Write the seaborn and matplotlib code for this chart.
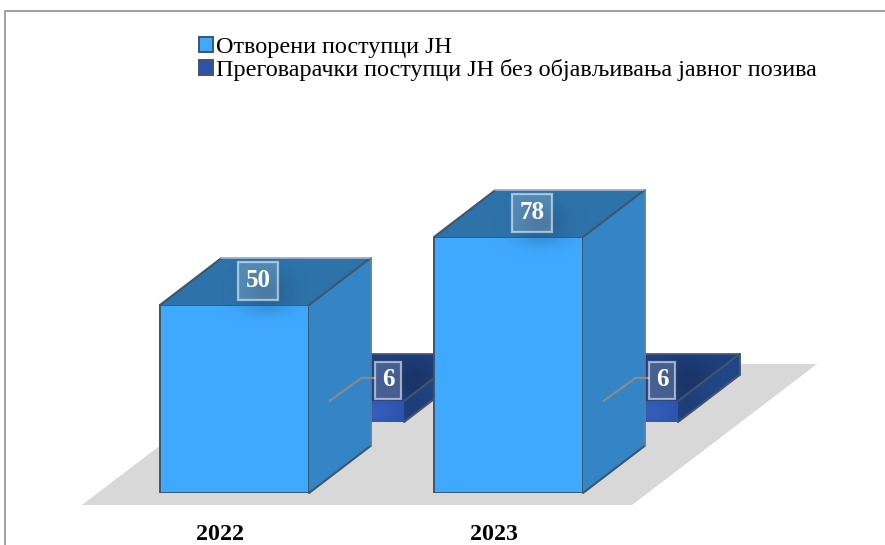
#!/usr/bin/env python3
# -*- coding: utf-8 -*-
import numpy as np
import pandas as pd
import seaborn as sns
import matplotlib.pyplot as plt
from matplotlib.patches import Polygon, Rectangle
from matplotlib.transforms import ScaledTranslation

years = ['2022', '2023']
open_proc = [50, 78]
negotiated = [6, 6]
series_names = ['Отворени поступци ЈН',
                'Преговарачки поступци ЈН без објављивања јавног позива']

# the 3D bars of the original are not proportional, so the height scale is bent
scale_vals = [0, 6, 50, 78]
scale_px = [0, 21, 188, 256]

W, H = 885, 545
DEPTH = (61.5, 47)
SERIF = 'Liberation Serif'

sns.set_theme(style='white')
plt.rcParams['font.family'] = [SERIF, 'DejaVu Serif']


def to_scale(v):
    return np.interp(v, scale_vals, scale_px)


def from_scale(p):
    return np.interp(p, scale_px, scale_vals)


def pixel_axes(fig, z):
    a = fig.add_axes([0, 0, 1, 1], zorder=z)
    a.set_xlim(0, W)
    a.set_ylim(H, 0)
    a.axis('off')
    a.patch.set_alpha(0)
    return a


def bar_axes(fig, left, base, z):
    # axes 548 px wide for two categories, 256 px tall for the scale above
    a = fig.add_axes([left / W, (H - base) / H, 548 / W, 256 / H], zorder=z)
    a.patch.set_alpha(0)
    return a


def draw_series(a, values, color, edge):
    df = pd.DataFrame({'year': years, 'value': values})
    sns.barplot(data=df, x='year', y='value', ax=a, color=color, width=0.5438,
                saturation=1, edgecolor=edge, linewidth=1.4)
    a.set_yscale('function', functions=(to_scale, from_scale))
    a.set_xlim(-0.5, 1.5)
    a.set_ylim(0, 78)
    a.set_yticks([])
    a.set_xlabel('')
    a.set_ylabel('')
    sns.despine(ax=a, left=True, bottom=True)


def corners(a, bar):
    """front corners of a bar in pixels, y going down"""
    x0, x1 = bar.get_x(), bar.get_x() + bar.get_width()
    h = bar.get_height()
    pts = a.transData.transform([(x0, 0), (x1, h)])
    return pts[0][0], H - pts[1][1], pts[1][0], H - pts[0][1]


def add_faces(a, layer, clr_top, clr_side, edge, edge_back, edge_right):
    dx, dy = DEPTH
    out = []
    for bar in a.containers[0]:
        l, t, r, b = corners(a, bar)
        side = Polygon([(r, t), (r + dx, t - dy), (r + dx, b - dy), (r, b)],
                       fc=clr_side, ec='none')
        top = Polygon([(l, t), (l + dx, t - dy), (r + dx, t - dy), (r, t)],
                      fc=clr_top, ec='none')
        layer.add_patch(side)
        layer.add_patch(top)
        out.append((l, t, r, b, top, side))
        # edges go on top of the shadows
        layer.plot([l, l + dx], [t, t - dy], color=edge, lw=1.5, zorder=4)
        layer.plot([r, r + dx], [t, t - dy], color=edge, lw=1.5, zorder=4)
        layer.plot([r, r + dx], [b, b - dy], color=edge, lw=1.5, zorder=4)
        layer.plot([l + dx, r + dx], [t - dy, t - dy], color=edge_back, lw=1.3, zorder=4)
        layer.plot([r + dx, r + dx], [t - dy, b - dy], color=edge_right, lw=1.3, zorder=4)
    return out


def blob(a, cx, cy, rx, ry, color, alpha, clip):
    xs, ys = np.meshgrid(np.arange(cx - 3 * rx, cx + 3 * rx),
                         np.arange(cy - 3 * ry, cy + 3 * ry))
    g = np.exp(-((xs - cx) / rx) ** 2 / 2 - ((ys - cy) / ry) ** 2 / 2)
    img = np.zeros(g.shape + (4,))
    img[..., :3] = plt.matplotlib.colors.to_rgb(color)
    img[..., 3] = alpha * g
    im = a.imshow(img, extent=(cx - 3 * rx, cx + 3 * rx, cy + 3 * ry, cy - 3 * ry),
                  aspect='auto', interpolation='bilinear', zorder=3)
    im.set_clip_path(clip)
    a.set_xlim(0, W)
    a.set_ylim(H, 0)


def value_box(a, x, y, txt, pad):
    a.text(x, y, txt, ha='center', va='center', color='white', fontsize=18,
           fontweight='bold', zorder=6,
           bbox=dict(boxstyle='square,pad=%.2f' % pad, fc=(1, 1, 1, 0.18),
                     ec=(1, 1, 1, 0.55), lw=1.6))


fig = plt.figure(figsize=(W / 100, H / 100), dpi=100)

# page background: frame and floor
bg = pixel_axes(fig, 0)
bg.add_patch(Rectangle((4.5, 10.5), 900, 600, fc='white', ec='#9a9a9a', lw=1.3))
bg.add_patch(Polygon([(82, 505), (632, 505), (817, 364), (267, 364)],
                     fc='#d8d8d8', ec='none'))

# back series
ax_back = bar_axes(fig, 192.5, 422, 1)
draw_series(ax_back, negotiated, '#2c52ab', '#44546a')
ax_back.set_xticks([])
layer_back = pixel_axes(fig, 1.5)
back_faces = add_faces(ax_back, layer_back, '#1f3f7e', '#224585', '#44546a',
                       '#46587a', '#3a4f7c')
for l, t, r, b, top, side in back_faces:
    blob(layer_back, r + 10, t - 21, 15, 16, '#12294f', 0.45, top)
    blob(layer_back, r + 10, t + 3, 13, 14, '#12294f', 0.25, side)
    face = Rectangle((l, t), r - l, b - t, fc='none', ec='none')
    layer_back.add_patch(face)
    blob(layer_back, r - 28, t + 10, 14, 9, '#3f6cc9', 0.5, face)

# front series
ax_front = bar_axes(fig, 97.5, 493, 2)
draw_series(ax_front, open_proc, '#3fa9ff', '#3d566e')
ax_front.set_xticks([0, 1], years, fontsize=17.3, fontweight='bold', color='black')
ax_front.tick_params(axis='x', length=0, pad=22)
for lbl in ax_front.get_xticklabels():
    lbl.set_transform(lbl.get_transform()
                      + ScaledTranslation(-15 / 100, 0, fig.dpi_scale_trans))
layer_front = pixel_axes(fig, 2.5)
front_faces = add_faces(ax_front, layer_front, '#2d72a9', '#3385c6', '#3d566e',
                        '#9fb0bf', '#4d7fa8')
for (l, t, r, b, top, side) in front_faces:
    blob(layer_front, l + 106, t - 14, 15, 14, '#1e4f7c', 0.55, top)
    face = Rectangle((l + 1, t + 1), r - l - 2, b - t - 2, fc='none', ec='none')
    layer_front.add_patch(face)
    blob(layer_front, l + 106, t, 17, 7, '#2f7fc4', 0.55, face)

# value boxes and leader lines on top
over = pixel_axes(fig, 3)
for (l, t, r, b, top, side), v in zip(front_faces, open_proc):
    value_box(over, (l + r) / 2 + 23.5, t - 24.5, str(v), 0.30)
for (l, t, r, b, top, side), v in zip(back_faces, negotiated):
    mid = (l + r) / 2
    over.plot([mid, mid + 32, mid + 45], [t, t - 23, t - 23], color='#8a8a8a', lw=1.6)
    value_box(over, mid + 58.5, t - 21, str(v), 0.28)

leg = fig.legend([ax_front.containers[0], ax_back.containers[0]], series_names,
                 loc='upper left', bbox_to_anchor=(199 / W, 1 - 37 / H),
                 frameon=False, fontsize=17.4, handlelength=0.58, handleheight=0.58,
                 handletextpad=0.12, labelspacing=0.05, borderpad=0, borderaxespad=0,
                 labelcolor='black')
leg.set_zorder(5)

plt.savefig('out.png', dpi=100)
